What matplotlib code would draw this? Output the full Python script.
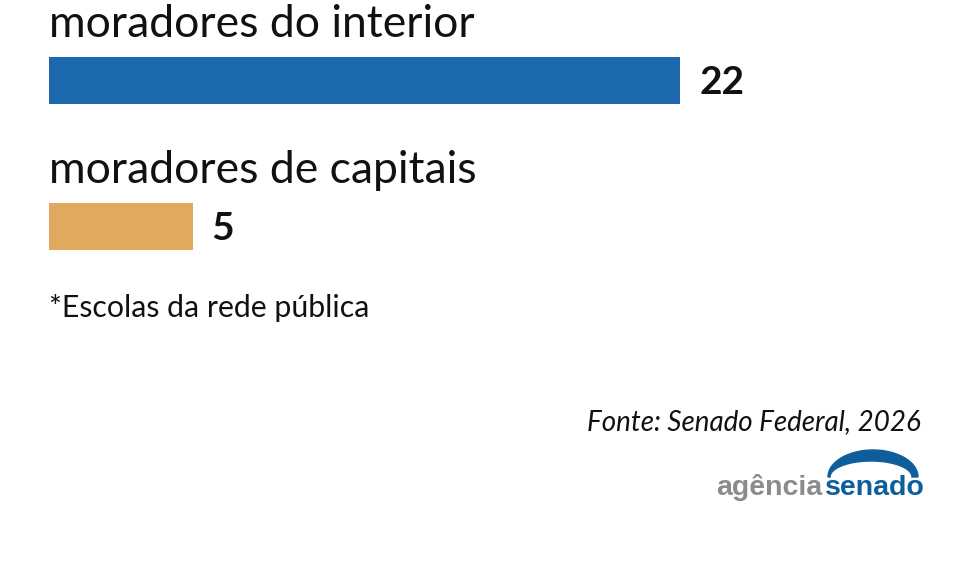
import numpy as np
import matplotlib.pyplot as plt
from matplotlib.patches import Polygon
from matplotlib.transforms import Affine2D

labels = ["moradores do interior", "moradores de capitais"]
values = [22, 5]
colors = ["#1c6aad", "#e0a95f"]
note = "*Escolas da rede pública"
source = "Fonte: Senado Federal, 2026"

W, H = 971, 566
fig = plt.figure(figsize=(W / 100, H / 100), dpi=100)
ax = fig.add_axes([0, 0, 1, 1])

# pixel layout: bars start at x=49, ~28.7 px per unit, rows 146 px apart
x0, ppu = 49, 28.7
y0, step = 80.5, 146
ax.set_xlim(-x0 / ppu, (W - x0) / ppu)
ax.set_ylim((H - y0) / step, -y0 / step)
ax.axis("off")

pos = np.arange(len(values))
ax.barh(pos, values, height=47 / step, color=colors, left=0)
for i, (lab, v) in enumerate(zip(labels, values)):
    ax.text(0, i - 43.5 / step, lab, fontsize=32, family="Lato",
            ha="left", va="baseline", color="#111111")
    ax.text(v + 19 / ppu, i + 2 / step, str(v), fontsize=28, family="Lato",
            fontweight="bold", ha="left", va="center", color="#111111")

# decorations in pixel coordinates (y down)
px = Affine2D().scale(1 / W, -1 / H).translate(0, 1) + fig.transFigure
fig.text(49, 317, note, transform=px, fontsize=21.8, family="Lato",
         ha="left", va="baseline", color="#111111")
fig.text(921, 430, source, transform=px, fontsize=20, family="Lato",
         style="italic", ha="right", va="baseline", color="#111111")

# logo
fig.text(822, 495, "agência", transform=px, fontsize=20.5, family="Liberation Sans",
         fontweight="bold", ha="right", va="baseline", color="#8a8b8d")
fig.text(825, 495, "senado", transform=px, fontsize=20.5, family="Liberation Sans",
         fontweight="bold", ha="left", va="baseline", color="#0f5e9c")
t = np.linspace(0, np.pi, 80)
cx, cy = 873, 477
outer = np.column_stack([cx + 45 * np.cos(t), cy - 27 * np.sin(t)])
inner = np.column_stack([cx - 2 + 41 * np.cos(t[::-1]), cy - 16 * np.sin(t[::-1])])
fig.patches.append(Polygon(np.vstack([outer, inner]), closed=True,
                           transform=px, color="#0f5e9c"))

fig.savefig("out.png", dpi=100)
